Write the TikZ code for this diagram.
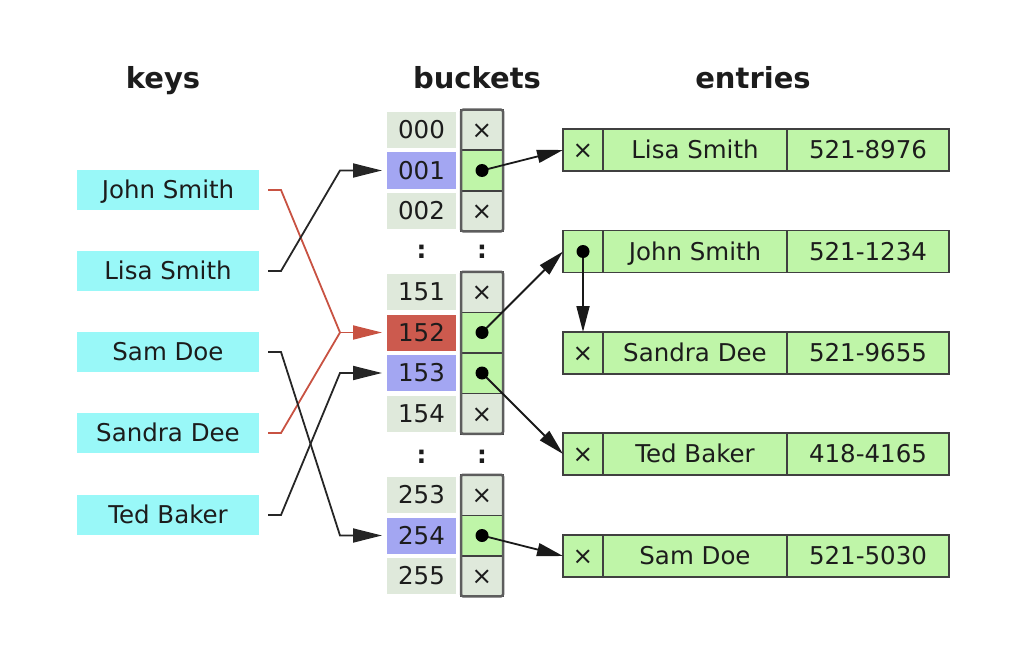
\documentclass[tikz,border=0pt]{standalone}
\usepackage{fontspec}
\setmainfont{DejaVu Sans}
\usetikzlibrary{arrows.meta,positioning}
\definecolor{keycyan}{RGB}{153,248,248}
\definecolor{slotgrey}{RGB}{223,233,219}
\definecolor{slotblue}{RGB}{163,166,242}
\definecolor{slotred}{RGB}{204,90,78}
\definecolor{linkred}{RGB}{200,82,66}
\definecolor{cellgreen}{RGB}{191,245,168}
\definecolor{edgegrey}{RGB}{64,64,64}
\definecolor{inkgrey}{RGB}{28,28,28}
\begin{document}
\begin{tikzpicture}[x=1pt,y=-1pt,
  title/.style={anchor=base, text=inkgrey, font=\bfseries\fontsize{29}{34}\selectfont},
  txt/.style={inner sep=0pt, outer sep=0pt, text height=20pt, text depth=2.5pt, text=inkgrey, font=\fontsize{24.5}{28}\selectfont},
  keybox/.style={txt, rectangle, fill=keycyan, minimum width=182pt, minimum height=40pt},
  slot/.style={txt, rectangle, fill=slotgrey, minimum width=69pt, minimum height=36pt},
  ptr/.style={txt, rectangle, draw=edgegrey, line width=1.5pt, fill=slotgrey, minimum width=42pt, minimum height=40.5pt},
  frame/.style={draw=edgegrey!85, line width=2.5pt, rounded corners=2pt},
  field/.style={txt, rectangle, draw=edgegrey, line width=1.8pt, fill=cellgreen, minimum height=42pt},
  keylink/.style={draw=black!85, line width=1.8pt},
  redlink/.style={draw=linkred, line width=1.8pt},
  tip/.style={-{Triangle[length=29pt,width=14pt]}, shorten >=5pt},
  ptrlink/.style={draw=black!90, line width=1.8pt, -{Triangle[length=26pt,width=13pt]}}
]
\useasboundingbox (0,0) rectangle (1020,650);

% titles
\node[title] (Tkeys) at (163,89) {keys};
\node[title] (Tbuckets) at (477,89) {buckets};
\node[title] (Tentries) at (753,89) {entries};

% keys
\node[keybox] (K1) at (168,190) {John Smith};
\node[keybox] (K2) at (168,271) {Lisa Smith};
\node[keybox] (K3) at (168,352) {Sam Doe};
\node[keybox] (K4) at (168,433) {Sandra Dee};
\node[keybox] (K5) at (168,515) {Ted Baker};

% buckets
\node[slot] (B000) at (421.5,130) {000};
\node[slot, fill=slotblue] (B001) at (421.5,170.5) {001};
\node[slot] (B002) at (421.5,211) {002};
\node[slot] (B151) at (421.5,292) {151};
\node[slot, fill=slotred] (B152) at (421.5,332.5) {152};
\node[slot, fill=slotblue] (B153) at (421.5,373) {153};
\node[slot] (B154) at (421.5,413.5) {154};
\node[slot] (B253) at (421.5,495) {253};
\node[slot, fill=slotblue] (B254) at (421.5,535.5) {254};
\node[slot] (B255) at (421.5,576) {255};

\node[ptr] at ([xshift=60.5pt]B000) (P000) {×};
\node[ptr, fill=cellgreen] at ([xshift=60.5pt]B001) (P001) {};
\node[ptr] at ([xshift=60.5pt]B002) (P002) {×};
\node[ptr] at ([xshift=60.5pt]B151) (P151) {×};
\node[ptr, fill=cellgreen] at ([xshift=60.5pt]B152) (P152) {};
\node[ptr, fill=cellgreen] at ([xshift=60.5pt]B153) (P153) {};
\node[ptr] at ([xshift=60.5pt]B154) (P154) {×};
\node[ptr] at ([xshift=60.5pt]B253) (P253) {×};
\node[ptr, fill=cellgreen] at ([xshift=60.5pt]B254) (P254) {};
\node[ptr] at ([xshift=60.5pt]B255) (P255) {×};
\draw[frame] (P000.north west) rectangle (P002.south east);
\draw[frame] (P151.north west) rectangle (P154.south east);
\draw[frame] (P253.north west) rectangle (P255.south east);

\node[txt, font=\bfseries\fontsize{24.5}{28}\selectfont] (D1) at (421.5,250) {:};
\node[txt, font=\bfseries\fontsize{24.5}{28}\selectfont] (D2) at (482,250) {:};
\node[txt, font=\bfseries\fontsize{24.5}{28}\selectfont] (D3) at (421.5,455) {:};
\node[txt, font=\bfseries\fontsize{24.5}{28}\selectfont] (D4) at (482,455) {:};

% entries
\node[field, minimum width=40pt] (E1x) at (583,150) {×};
\node[field, minimum width=184pt, right=0pt of E1x] (E1n) {Lisa Smith};
\node[field, minimum width=162pt, right=0pt of E1n] (E1t) {521-8976};
\node[field, minimum width=40pt] (E2x) at (583,251.5) {};
\node[field, minimum width=184pt, right=0pt of E2x] (E2n) {John Smith};
\node[field, minimum width=162pt, right=0pt of E2n] (E2t) {521-1234};
\node[field, minimum width=40pt] (E3x) at (583,353) {×};
\node[field, minimum width=184pt, right=0pt of E3x] (E3n) {Sandra Dee};
\node[field, minimum width=162pt, right=0pt of E3n] (E3t) {521-9655};
\node[field, minimum width=40pt] (E4x) at (583,454) {×};
\node[field, minimum width=184pt, right=0pt of E4x] (E4n) {Ted Baker};
\node[field, minimum width=162pt, right=0pt of E4n] (E4t) {418-4165};
\node[field, minimum width=40pt] (E5x) at (583,556) {×};
\node[field, minimum width=184pt, right=0pt of E5x] (E5n) {Sam Doe};
\node[field, minimum width=162pt, right=0pt of E5n] (E5t) {521-5030};

% keys to buckets
\node[shape=coordinate] at ([xshift=-47pt]B001.west) (M001) {};
\node[shape=coordinate] at ([xshift=-47pt]B152.west) (M152) {};
\node[shape=coordinate] at ([xshift=-47pt]B153.west) (M153) {};
\node[shape=coordinate] at ([xshift=-47pt]B254.west) (M254) {};
\draw[redlink] ([xshift=9pt]K1.east) -- ++(13,0) -- (M152);
\draw[redlink] ([xshift=9pt]K4.east) -- ++(13,0) -- (M152);
\draw[redlink, tip] (M152) -- (B152.west);
\draw[keylink, tip] ([xshift=9pt]K2.east) -- ++(13,0) -- (M001) -- (B001.west);
\draw[keylink, tip] ([xshift=9pt]K3.east) -- ++(13,0) -- (M254) -- (B254.west);
\draw[keylink, tip] ([xshift=9pt]K5.east) -- ++(13,0) -- (M153) -- (B153.west);

% buckets to entries
\draw[ptrlink] (P001.center) -- (E1x.west);
\draw[ptrlink] (P152.center) -- (E2x.west);
\draw[ptrlink] (P153.center) -- (E4x.west);
\draw[ptrlink] (P254.center) -- (E5x.west);
\draw[ptrlink] (E2x.center) -- (E3x.north);
\fill (P001.center) circle[radius=6.5];
\fill (P152.center) circle[radius=6.5];
\fill (P153.center) circle[radius=6.5];
\fill (P254.center) circle[radius=6.5];
\fill (E2x.center) circle[radius=6.5];
\end{tikzpicture}
\end{document}
